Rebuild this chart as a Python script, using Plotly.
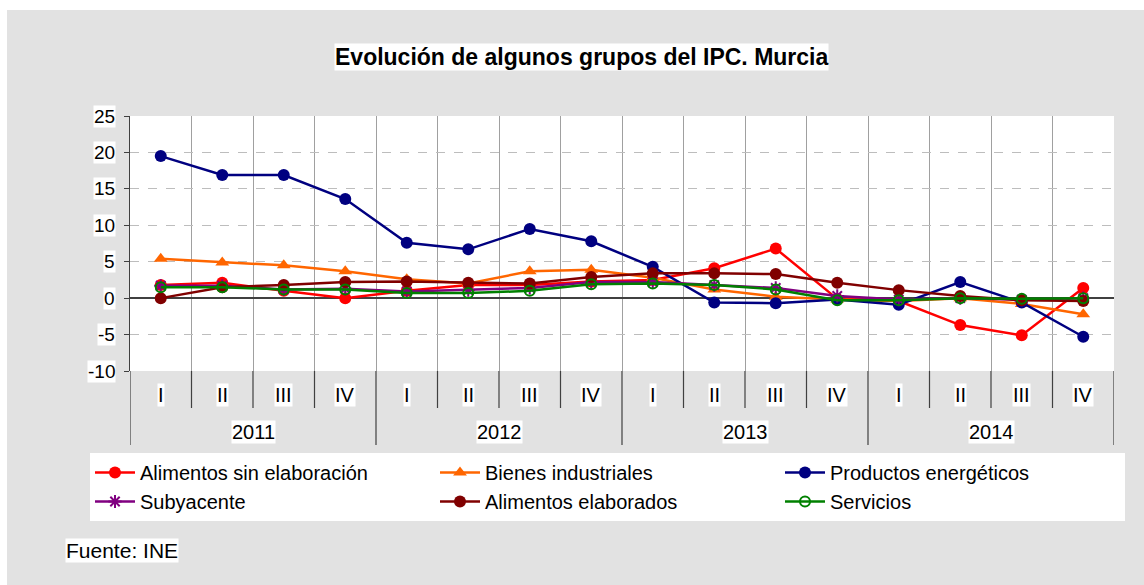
import plotly.graph_objects as go

quarters = ["I", "II", "III", "IV"] * 4
years = ["2011", "2012", "2013", "2014"]
y_ticks = [25, 20, 15, 10, 5, 0, -5, -10]

alim_sin_elab = [1.8, 2.1, 1.0, 0.0, 1.0, 1.8, 1.8, 2.3, 2.5, 4.1, 6.8, -0.1, -0.4, -3.7, -5.1, 1.4]
bienes_ind = [5.4, 4.9, 4.5, 3.7, 2.6, 2.0, 3.7, 3.9, 2.8, 1.2, 0.2, -0.2, -0.4, 0.0, -0.8, -2.2]
prod_energ = [19.5, 16.9, 16.9, 13.6, 7.6, 6.7, 9.5, 7.8, 4.3, -0.6, -0.7, -0.2, -0.9, 2.2, -0.6, -5.3]
subyacente = [1.7, 1.7, 1.2, 1.3, 0.9, 1.1, 1.4, 2.2, 2.2, 1.8, 1.4, 0.3, -0.2, 0.0, -0.2, 0.0]
alim_elab = [0.0, 1.5, 1.8, 2.2, 2.3, 2.1, 2.0, 2.9, 3.4, 3.4, 3.3, 2.1, 1.1, 0.3, -0.3, -0.4]
servicios = [1.5, 1.5, 1.2, 1.2, 0.7, 0.7, 1.0, 1.9, 2.0, 1.8, 1.2, -0.3, -0.3, 0.0, -0.1, 0.0]

series = [
    ("Alimentos sin elaboración", alim_sin_elab, "#FF0000", "circle", 12),
    ("Bienes industriales", bienes_ind, "#FF6600", "triangle-up", 12),
    ("Productos energéticos", prod_energ, "#000080", "circle", 12),
    ("Subyacente", subyacente, "#800080", "asterisk-open", 11),
    ("Alimentos elaborados", alim_elab, "#800000", "circle", 12),
    ("Servicios", servicios, "#008000", "circle-open", 10),
]

FONT = "Liberation Sans, Arial, sans-serif"
x = list(range(len(quarters)))

fig = go.Figure()
for name, vals, col, sym, sz in series:
    mk = dict(symbol=sym, size=sz, color=col)
    if sym in ("asterisk-open", "circle-open"):
        mk["line"] = dict(color=col, width=2)
    fig.add_trace(go.Scatter(x=x, y=vals, name=name, mode="lines+markers",
                             line=dict(color=col, width=2.5), marker=mk))

# plot geometry in px
L, R, T, B = 130, 1114, 116, 371
W, H = 1144, 585
PH = B - T
PW = R - L

def py(p):
    return (B - p) / PH

def px(p):
    return (p - L) / PW

annotations = []
for i, q in enumerate(quarters):
    annotations.append(dict(x=i, y=py(395), xref="x", yref="paper", text=q, showarrow=False,
                            xanchor="center", yanchor="middle",
                            font=dict(family=FONT, size=20, color="black"), bgcolor="white", borderpad=0))
for j, yr in enumerate(years):
    annotations.append(dict(x=4 * j + 1.5, y=py(432), xref="x", yref="paper", text=yr, showarrow=False,
                            xanchor="center", yanchor="middle",
                            font=dict(family=FONT, size=20, color="black"), bgcolor="white", borderpad=0))
for v in y_ticks:
    annotations.append(dict(x=px(116), y=v, xref="paper", yref="y", text=str(v), showarrow=False,
                            xanchor="right", yanchor="middle", font=dict(family=FONT, size=19, color="black"),
                            bgcolor="white", borderpad=0))
annotations.append(dict(x=px(581), xref="paper", y=py(57), yref="paper",
                        xanchor="center", yanchor="middle",
                        text="<b>Evolución de algunos grupos del IPC. Murcia</b>", showarrow=False,
                        font=dict(family=FONT, size=23, color="black"), bgcolor="white", borderpad=0))
annotations.append(dict(x=px(65), xref="paper", y=py(550), yref="paper", xanchor="left", yanchor="middle",
                        text="Fuente: INE", showarrow=False,
                        font=dict(family=FONT, size=21, color="black"), bgcolor="white", borderpad=0))

shapes = []
# white strips (outer frame)
shapes.append(dict(type="rect", xref="paper", yref="paper", x0=px(0), x1=px(W), y0=py(0), y1=py(10),
                   fillcolor="white", line=dict(width=0), layer="below"))
shapes.append(dict(type="rect", xref="paper", yref="paper", x0=px(0), x1=px(7), y0=py(0), y1=py(H),
                   fillcolor="white", line=dict(width=0), layer="below"))
# dividers under the plot
for k in range(17):
    xb = k - 0.5
    long = (k % 4 == 0)
    shapes.append(dict(type="line", xref="x", yref="paper", x0=xb, x1=xb, y0=0,
                       y1=py(445 if long else 408), line=dict(color="#404040", width=1.2)))

fig.update_layout(
    width=W, height=H,
    margin=dict(l=L, r=W - R, t=T, b=H - B),
    paper_bgcolor="#E2E2E2", plot_bgcolor="white",
    showlegend=True,
    legend=dict(orientation="h", x=px(90), y=py(453), xanchor="left", yanchor="top",
                bgcolor="white", font=dict(family=FONT, size=20, color="black"),
                entrywidth=290, itemwidth=40, tracegroupgap=0, traceorder="normal"),
    annotations=annotations, shapes=shapes,
    xaxis=dict(range=[-0.5, 15.5], tickvals=[k - 0.5 for k in range(17)], showticklabels=False,
               showgrid=True, gridcolor="#A0A0A0", gridwidth=1, zeroline=False, ticks=""),
    yaxis=dict(range=[-10, 25], tickvals=y_ticks, showticklabels=False, showgrid=True,
               gridcolor="#BDBDBD", griddash="dash", gridwidth=1,
               zeroline=True, zerolinecolor="#404040", zerolinewidth=1.5,
               showline=True, linecolor="#404040", linewidth=1.2, ticks="outside", ticklen=5,
               tickcolor="#404040"),
)

fig.write_html("out.html", config={"displayModeBar": False},
               post_script="document.body.style.margin='0';")
